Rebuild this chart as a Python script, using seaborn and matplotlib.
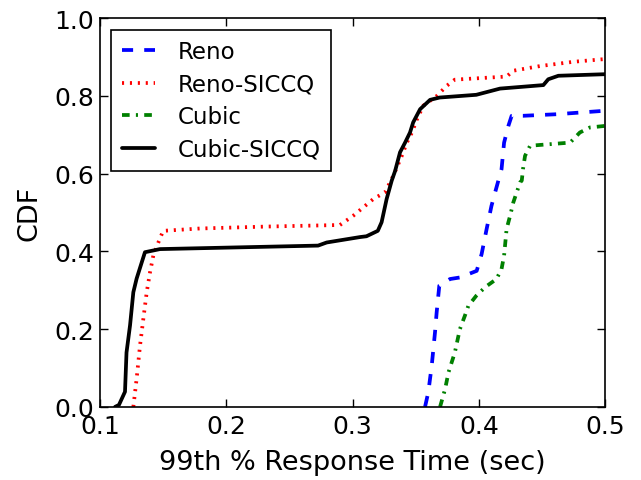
#!/usr/bin/env python3
"""CDF of 99th percentile response time for Reno/Cubic with and without SICCQ."""

import matplotlib
matplotlib.use("Agg")
import matplotlib.pyplot as plt
import pandas as pd
import seaborn as sns

# values (x in sec, y = CDF)
reno_x = [0.3574, 0.360, 0.3627, 0.3653, 0.3666, 0.3687, 0.3772, 0.385, 0.3983,
          0.4022, 0.4062, 0.410, 0.4129, 0.418, 0.420, 0.4234, 0.426, 0.435,
          0.4616, 0.5, 0.52]
reno_y = [0.0, 0.038, 0.106, 0.192, 0.243, 0.312, 0.329, 0.333, 0.350,
          0.393, 0.458, 0.517, 0.552, 0.612, 0.680, 0.723, 0.749, 0.749,
          0.753, 0.762, 0.765]

reno_siccq_x = [0.1264, 0.129, 0.1317, 0.1343, 0.137, 0.1396, 0.1422, 0.1462, 0.150,
                0.179, 0.232, 0.290, 0.3006, 0.3165, 0.3257, 0.3323, 0.339, 0.343,
                0.347, 0.351, 0.356, 0.3667, 0.3745, 0.381, 0.422, 0.4273, 0.4485,
                0.475, 0.5, 0.52]
reno_siccq_y = [0.0, 0.072, 0.158, 0.226, 0.295, 0.346, 0.389, 0.423, 0.453,
                0.459, 0.464, 0.468, 0.492, 0.535, 0.552, 0.595, 0.646, 0.680,
                0.706, 0.740, 0.775, 0.800, 0.826, 0.842, 0.850, 0.865, 0.877,
                0.888, 0.895, 0.898]

cubic_x = [0.3693, 0.3733, 0.376, 0.381, 0.385, 0.389, 0.3917, 0.398, 0.405,
           0.414, 0.418, 0.420, 0.422, 0.4248, 0.4273, 0.4327, 0.434, 0.435,
           0.4366, 0.4406, 0.4723, 0.480, 0.488, 0.5, 0.52]
cubic_y = [0.0, 0.046, 0.089, 0.140, 0.200, 0.235, 0.260, 0.286, 0.308,
           0.329, 0.355, 0.389, 0.458, 0.492, 0.526, 0.578, 0.582, 0.612,
           0.646, 0.672, 0.680, 0.706, 0.719, 0.723, 0.726]

cubic_siccq_x = [0.1119, 0.1150, 0.1198, 0.121, 0.1238, 0.1264, 0.129, 0.1356, 0.1475,
                 0.2727, 0.2795, 0.306, 0.311, 0.320, 0.323, 0.327, 0.331, 0.3337,
                 0.3376, 0.3416, 0.3455, 0.348, 0.3535, 0.3614, 0.369, 0.398, 0.4168,
                 0.4511, 0.455, 0.463, 0.5, 0.52]
cubic_siccq_y = [0.0, 0.005, 0.039, 0.14, 0.21, 0.295, 0.33, 0.398, 0.406,
                 0.415, 0.423, 0.437, 0.439, 0.453, 0.475, 0.535, 0.582, 0.607,
                 0.655, 0.680, 0.706, 0.732, 0.766, 0.790, 0.796, 0.803, 0.819,
                 0.828, 0.843, 0.852, 0.856, 0.858]

SERIES = [
    ("Reno", reno_x, reno_y, "#0000ff", (0, (8, 8))),
    ("Reno-SICCQ", reno_siccq_x, reno_siccq_y, "#ff0000", (0, (1.5, 4.2))),
    ("Cubic", cubic_x, cubic_y, "#008000", (0, (5.5, 4.5, 1.5, 4.5))),
    ("Cubic-SICCQ", cubic_siccq_x, cubic_siccq_y, "#000000", "-"),
]


def main() -> None:
    sns.set_style("ticks")
    plt.rcParams["font.family"] = ["DejaVu Sans"]
    plt.rcParams["lines.scale_dashes"] = False
    plt.rcParams["axes.edgecolor"] = "black"
    plt.rcParams["axes.labelcolor"] = "black"
    plt.rcParams["text.color"] = "black"
    plt.rcParams["xtick.color"] = "black"
    plt.rcParams["ytick.color"] = "black"

    fig, ax = plt.subplots(figsize=(6.41, 4.81), dpi=100)
    fig.subplots_adjust(left=0.156, right=0.944, bottom=0.152, top=0.960)

    for name, xs, ys, color, ls in SERIES:
        df = pd.DataFrame({"x": xs, "y": ys})
        sns.lineplot(data=df, x="x", y="y", color=color, linestyle=ls,
                     linewidth=2.7, label=name, sort=False, estimator=None, ax=ax)

    ax.set_xlim(0.1, 0.5)
    ax.set_ylim(0.0, 1.0)
    ax.set_xticks([0.1, 0.2, 0.3, 0.4, 0.5])
    ax.set_yticks([0.0, 0.2, 0.4, 0.6, 0.8, 1.0])
    ax.set_xticklabels(["0.1", "0.2", "0.3", "0.4", "0.5"])
    ax.set_yticklabels(["0.0", "0.2", "0.4", "0.6", "0.8", "1.0"])
    ax.tick_params(direction="in", length=6, width=1, labelsize=18,
                   top=True, right=True)
    ax.tick_params(axis="x", pad=5)
    ax.tick_params(axis="y", pad=4)
    for sp in ax.spines.values():
        sp.set_linewidth(1.2)
        sp.set_color("black")

    ax.set_xlabel("99th % Response Time (sec)", fontsize=19.5, labelpad=8)
    ax.set_ylabel("CDF", fontsize=19.5, labelpad=9)

    leg = ax.legend(loc="upper left", fontsize=16.5, frameon=True, fancybox=False,
                    handlelength=1.45, handletextpad=1.0, borderaxespad=0.5,
                    borderpad=0.45, labelspacing=0.42)
    leg.get_frame().set_edgecolor("black")
    leg.get_frame().set_linewidth(1.2)
    leg.get_frame().set_alpha(1.0)

    fig.savefig("out.png", dpi=100)


if __name__ == "__main__":
    main()
